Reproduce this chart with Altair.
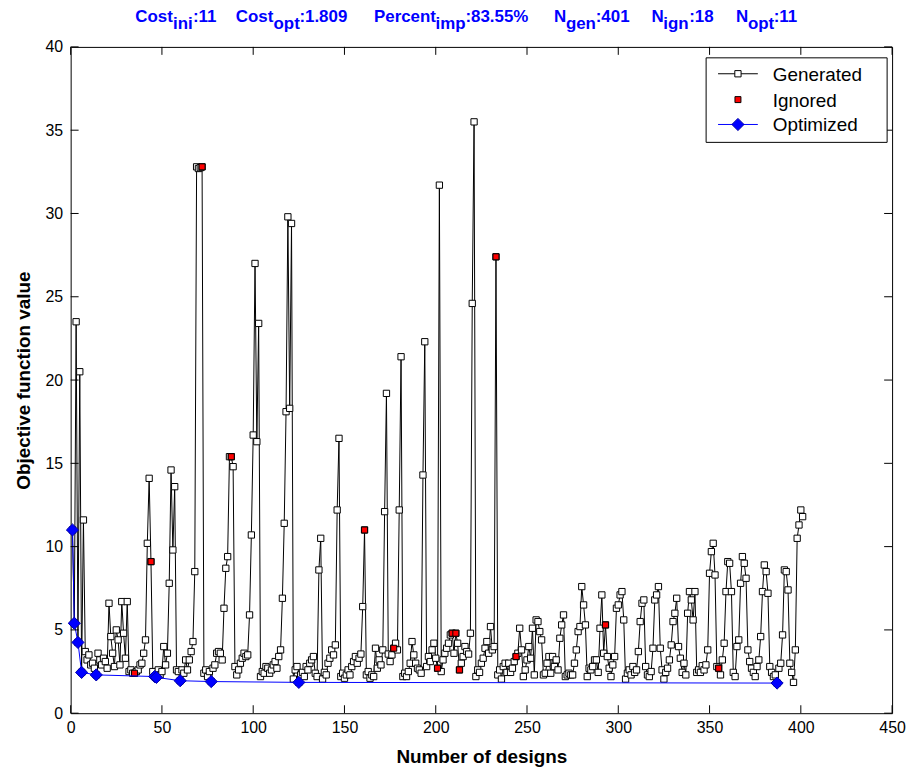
import altair as alt
import pandas as pd

# ---------------- data ----------------
gen_values = [
    11.0, 5.4, 23.5, 4.25, 20.5, 2.45, 11.6, 3.7, 3.2, 3.5,
    2.9, 3.0, 2.7, 2.3, 3.6, 3.2, 2.9, 3.3, 3.1, 2.7,
    6.6, 4.6, 3.6, 2.8, 5.0, 4.4, 2.9, 6.7, 4.8, 3.3,
    6.7, 2.5, 2.6, 2.4, 2.4, 2.5, 2.6, 2.9, 3.0, 3.6,
    4.4, 10.2, 14.1, 9.1, 2.5, 2.2, 2.15, 2.6, 2.3, 2.5,
    4.0, 2.9, 3.6, 7.8, 14.6, 9.8, 13.6, 2.6, 2.5, 1.95,
    2.6, 2.4, 3.2, 2.6, 3.2, 3.7, 4.3, 8.5, 32.8, 32.7,
    32.75, 32.8, 2.4, 2.6, 2.2, 2.5, 1.9, 2.7, 2.9, 3.6,
    3.7, 3.6, 3.2, 6.3, 8.7, 9.4, 15.4, 15.4, 14.8, 2.8,
    2.3, 2.6, 3.0, 3.3, 3.6, 3.4, 3.5, 5.9, 10.7, 16.7,
    27.0, 16.3, 23.4, 2.2, 2.5, 2.4, 2.8, 2.7, 2.4, 2.6,
    2.9, 3.1, 2.7, 3.4, 3.8, 6.9, 11.4, 18.1, 29.8, 18.3,
    29.4, 2.05, 2.6, 2.8, 1.85, 2.3, 2.45, 2.2, 2.8, 2.6,
    3.0, 3.2, 3.4, 2.4, 2.2, 8.6, 10.5, 2.05, 2.45, 2.3,
    3.0, 3.3, 3.8, 3.5, 4.1, 12.2, 16.5, 2.2, 2.4, 2.1,
    2.3, 2.6, 2.3, 2.8, 3.1, 3.4, 3.0, 3.3, 3.55, 6.4,
    11.0, 2.3, 2.5, 2.1, 2.3, 2.2, 3.9, 2.7, 3.2, 2.9,
    3.8, 12.1, 19.2, 3.55, 3.1, 3.5, 3.9, 4.2, 3.8, 12.2,
    21.4, 2.2, 2.4, 2.2, 2.5, 3.0, 4.3, 3.5, 3.0, 2.7,
    2.6, 2.4, 14.3, 22.3, 2.8, 3.4, 3.1, 3.8, 4.2, 3.3,
    2.7, 31.7, 2.5, 3.2, 3.6, 3.9, 4.2, 4.7, 4.8, 3.6,
    4.8, 4.2, 2.6, 3.0, 3.4, 4.0, 3.7, 3.55, 4.8, 24.6,
    35.5, 2.2, 2.6, 2.45, 3.0, 3.3, 3.9, 4.3, 3.6, 5.2,
    3.8, 4.0, 27.4, 2.3, 2.6, 2.05, 2.8, 3.0, 2.45, 3.0,
    2.45, 2.7, 3.1, 3.4, 3.6, 5.1, 3.8, 2.2, 2.6, 3.2,
    4.0, 3.3, 5.1, 2.3, 5.6, 5.5, 4.9, 4.4, 2.3, 2.4,
    3.0, 3.4, 2.4, 3.4, 2.8, 3.2, 2.6, 4.5, 5.3, 5.9,
    2.2, 2.3, 2.4, 2.3, 2.3, 3.0, 3.8, 4.9, 5.2, 7.6,
    6.5, 5.3, 2.2, 2.7, 2.6, 2.8, 3.2, 3.2, 2.45, 5.1,
    7.1, 3.6, 5.3, 3.4, 2.7, 2.2, 2.9, 3.4, 6.3, 6.5,
    7.1, 7.3, 5.6, 2.05, 2.4, 2.6, 2.3, 2.8, 2.45, 2.6,
    3.7, 5.5, 6.6, 6.8, 2.8, 2.3, 2.2, 2.5, 3.9, 6.8,
    7.1, 7.6, 3.9, 2.6, 2.05, 2.45, 2.7, 3.2, 4.1, 5.5,
    6.0, 6.9, 4.0, 3.3, 2.45, 3.0, 2.3, 6.0, 7.3, 6.8,
    5.6, 7.3, 2.45, 2.6, 2.45, 2.85, 2.6, 2.9, 3.8, 8.4,
    9.7, 10.2, 8.3, 2.8, 2.7, 2.3, 3.2, 4.2, 7.3, 9.1,
    9.0, 7.3, 2.45, 2.2, 4.0, 4.4, 7.8, 9.4, 9.0, 8.1,
    3.8, 3.1, 2.7, 2.45, 2.2, 2.8, 3.2, 4.6, 7.3, 8.9,
    8.5, 7.2, 2.8, 2.45, 2.2, 2.3, 1.809, 2.7, 3.0, 4.7,
    8.6, 8.5, 7.4, 3.0, 2.45, 1.85, 3.8, 10.5, 11.3, 12.2,
    11.8,
]
ignored_designs = [35, 44, 72, 88, 161, 177, 201, 209, 211, 213, 233, 244, 293, 355]
optimized_designs = [1, 2, 4, 6, 14, 46, 47, 60, 77, 125, 387]

x_ticks = [0, 50, 100, 150, 200, 250, 300, 350, 400, 450]
y_ticks = [0, 5, 10, 15, 20, 25, 30, 35, 40]

# title pieces: (text, subscript?)
title_texts = ["Cost", "ini", ":11", "Cost", "opt", ":1.809", "Percent", "imp", ":83.55%",
               "N", "gen", ":401", "N", "ign", ":18", "N", "opt", ":11"]
title_is_sub = [False, True, False] * 6
legend_labels = ["Generated", "Ignored", "Optimized"]

# ---------------- layout ----------------
W, H = 826, 670
FONT = "Liberation Sans, Arial, sans-serif"
BLUE = "#0000ff"
title_x = [65, 103, 123, 166, 204, 230, 305, 367, 397, 486, 498, 528, 584, 596, 622, 669, 681, 707]

designs = list(range(1, len(gen_values) + 1))
gen_df = pd.DataFrame({"design": designs, "value": gen_values})
ign_df = gen_df[gen_df["design"].isin(ignored_designs)]
opt_df = gen_df[gen_df["design"].isin(optimized_designs)]

xs = alt.Scale(domain=[0, 450], nice=False, zero=False)
ys = alt.Scale(domain=[0, 40], nice=False, zero=False)

X = alt.X("design:Q", scale=xs,
          axis=alt.Axis(values=x_ticks, title="Number of designs", grid=False, ticks=False,
                        domain=False, labelPadding=6, titlePadding=13, labelFlush=False,
                        labelFont=FONT, labelFontSize=16, labelColor="black",
                        titleFont=FONT, titleFontSize=19, titleFontWeight="bold", titleColor="black"))
Y = alt.Y("value:Q", scale=ys,
          axis=alt.Axis(values=y_ticks, title="Objective function value", grid=False, ticks=False,
                        domain=False, labelPadding=8, titlePadding=12, labelFlush=False,
                        labelFont=FONT, labelFontSize=16, labelColor="black",
                        titleFont=FONT, titleFontSize=19, titleFontWeight="bold", titleColor="black"))

gen_line = alt.Chart(gen_df).mark_line(color="black", strokeWidth=1).encode(x=X, y=Y)
gen_pts = alt.Chart(gen_df).mark_point(shape="square", filled=True, fill="white", stroke="black",
                                        strokeWidth=1, size=40, opacity=1).encode(x=X, y=Y)
ign_pts = alt.Chart(ign_df).mark_point(shape="square", filled=True, fill="#ff0000", stroke="black",
                                        strokeWidth=1, size=36, opacity=1).encode(x=X, y=Y)
opt_line = alt.Chart(opt_df).mark_line(color=BLUE, strokeWidth=1).encode(x=X, y=Y)
opt_pts = alt.Chart(opt_df).mark_point(shape="diamond", filled=True, fill=BLUE, stroke="#0000aa",
                                        strokeWidth=1, size=150, opacity=1).encode(x=X, y=Y)

xt_df = pd.DataFrame({"design": x_ticks})
yt_df = pd.DataFrame({"value": y_ticks})
TL = 8
tick_layers = [
    alt.Chart(xt_df).mark_rule(color="black", strokeWidth=1).encode(
        x=X, y=alt.value(H), y2=alt.value(H - TL)),
    alt.Chart(xt_df).mark_rule(color="black", strokeWidth=1).encode(
        x=X, y=alt.value(0), y2=alt.value(TL)),
    alt.Chart(yt_df).mark_rule(color="black", strokeWidth=1).encode(
        y=Y, x=alt.value(0), x2=alt.value(TL)),
    alt.Chart(yt_df).mark_rule(color="black", strokeWidth=1).encode(
        y=Y, x=alt.value(W - TL), x2=alt.value(W)),
]

one = pd.DataFrame({"a": [0]})

# legend
LX0, LX1, LY0, LY1 = 639, 821, 11, 96
rows_y = [27, 53, 78]
sym_x = 671
leg = [
    alt.Chart(one).mark_rect(fill="white", stroke="black", strokeWidth=1).encode(
        x=alt.value(LX0), x2=alt.value(LX1), y=alt.value(LY0), y2=alt.value(LY1)),
    alt.Chart(one).mark_rule(color="black", strokeWidth=1).encode(
        x=alt.value(651), x2=alt.value(691), y=alt.value(rows_y[0])),
    alt.Chart(one).mark_point(shape="square", filled=True, fill="white", stroke="black",
                              strokeWidth=1, size=40, opacity=1).encode(
        x=alt.value(sym_x), y=alt.value(rows_y[0])),
    alt.Chart(one).mark_point(shape="square", filled=True, fill="#ff0000", stroke="black",
                              strokeWidth=1, size=36, opacity=1).encode(
        x=alt.value(sym_x), y=alt.value(rows_y[1])),
    alt.Chart(one).mark_rule(color=BLUE, strokeWidth=1).encode(
        x=alt.value(651), x2=alt.value(691), y=alt.value(rows_y[2])),
    alt.Chart(one).mark_point(shape="diamond", filled=True, fill=BLUE, stroke="#0000aa",
                              strokeWidth=1, size=150, opacity=1).encode(
        x=alt.value(sym_x), y=alt.value(rows_y[2])),
]
for lab, yy in zip(legend_labels, rows_y):
    leg.append(alt.Chart(one).mark_text(align="left", baseline="middle", font=FONT, fontSize=19,
                                        color="black", text=lab).encode(
        x=alt.value(706), y=alt.value(yy + 1)))

# title
title_layers = []
for txt, sub, tx in zip(title_texts, title_is_sub, title_x):
    title_layers.append(
        alt.Chart(one).mark_text(align="left", baseline="alphabetic", font=FONT, fontSize=17,
                                 fontWeight="bold", color=BLUE, text=txt).encode(
            x=alt.value(tx), y=alt.value(-18 if sub else -25)))

chart = alt.layer(gen_line, gen_pts, ign_pts, opt_line, opt_pts, *tick_layers, *leg, *title_layers)
chart = chart.properties(
    width=W, height=H, autosize="none", background="white",
    padding={"left": 63, "top": 37, "right": 16, "bottom": 55},
).configure_view(stroke="black", strokeWidth=1)

chart.save("out.html", embed_options={"renderer": "svg", "actions": False})
